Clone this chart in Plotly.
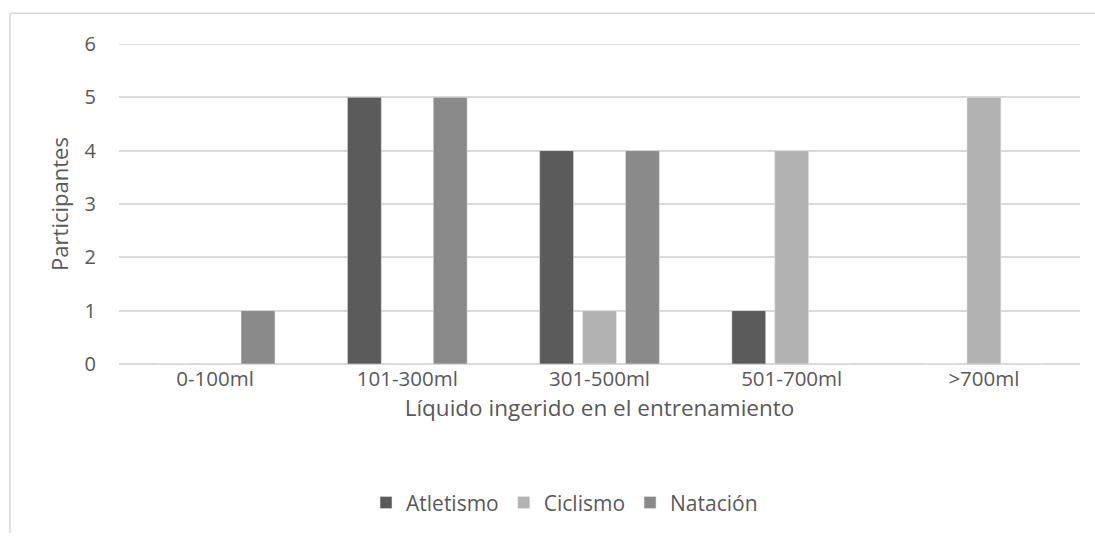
import plotly.graph_objects as go

categories = ["0-100ml", "101-300ml", "301-500ml", "501-700ml", ">700ml"]
atletismo = [0, 5, 4, 1, 0]
ciclismo = [0, 0, 1, 4, 5]
natacion = [1, 5, 4, 0, 0]

W, H = 1095, 536
L, R, T, B = 119, 15, 44, 170
pw, ph = W - L - R, H - T - B

font_family = "'Open Sans', sans-serif"
text_color = "#595959"
grid_color = "#d9d9d9"

fig = go.Figure()
fig.add_bar(x=categories, y=atletismo, name="Atletismo", marker_color="#5b5b5b")
fig.add_bar(x=categories, y=ciclismo, name="Ciclismo", marker_color="#b2b2b2")
fig.add_bar(x=categories, y=natacion, name="Natación", marker_color="#8a8a8a")

# outer chart frame: left and top edges, running to the page edges
fx = (10 - L) / pw
fy = 1 + (T - 13) / ph
right_edge = (W - L) / pw
bottom_edge = -B / ph
fig.add_shape(type="line", xref="paper", yref="paper", x0=fx, x1=fx, y0=bottom_edge, y1=fy,
              line=dict(color=grid_color, width=1.5), layer="below")
fig.add_shape(type="line", xref="paper", yref="paper", x0=fx, x1=right_edge, y0=fy, y1=fy,
              line=dict(color=grid_color, width=1.5), layer="below")

# top gridline at y = 6
fig.add_shape(type="line", xref="paper", yref="y", x0=0, x1=1, y0=6, y1=6,
              line=dict(color=grid_color, width=1.5), layer="below")

fig.update_layout(
    width=W, height=H,
    margin=dict(l=L, r=R, t=T, b=B),
    paper_bgcolor="white", plot_bgcolor="white",
    barmode="group", bargap=0.33, bargroupgap=0.21,
    font=dict(family=font_family, color=text_color, size=20),
    showlegend=True,
    legend=dict(orientation="h", x=0.4636, xanchor="center", y=-0.37, yanchor="top",
                font=dict(size=21, color=text_color), traceorder="normal",
                itemwidth=30),
    xaxis=dict(
        title=dict(text="Líquido ingerido en el entrenamiento", font=dict(size=22.5), standoff=6),
        showgrid=False, zeroline=False, showline=False, ticks="",
        tickfont=dict(size=20.5),
    ),
    yaxis=dict(
        title=dict(text="Participantes", font=dict(size=22), standoff=9),
        range=[0, 6], dtick=1, showgrid=True, gridcolor=grid_color, gridwidth=1.5,
        zeroline=True, zerolinecolor=grid_color, zerolinewidth=1.5,
        showline=False, ticks="", tickfont=dict(size=20), ticklabelstandoff=22,
    ),
)

fig.write_html("out.html")
